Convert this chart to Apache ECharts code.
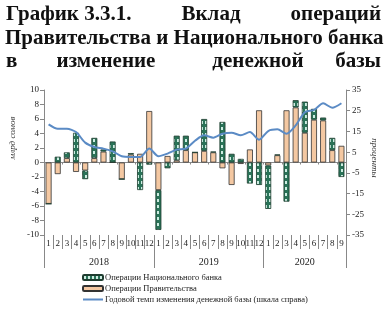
<!DOCTYPE html>
<html><head><meta charset="utf-8">
<script src="https://cdn.jsdelivr.net/npm/echarts@6/dist/echarts.min.js"></script>
<style>html,body{margin:0;padding:0;background:#fff}#c{width:392px;height:320px}</style>
</head><body><div id="c"></div>
<script>
var months = ['1','2','3','4','5','6','7','8','9','10','11','12','1','2','3','4','5','6','7','8','9','10','11','12','1','2','3','4','5','6','7','8','9'];
var years = ['2018','2019','2020'];
var govOps = [-5.7,-1.6,0.6,-1.3,-1.1,0.6,1.5,0,-2.3,1.1,1.2,7.1,
              -3.8,0.9,0.3,1.7,1.4,1.6,1.4,-0.8,-3.1,-0.2,1.8,7.2,
              -0.4,1.0,7.2,7.6,4.1,5.9,5.8,1.7,2.3];
var nbOps = [0,0.8,0.8,4.1,-1.2,2.8,0.3,2.9,0,0.2,-3.8,-0.3,
             -5.5,-0.8,3.4,2.0,0,4.4,0.1,5.6,1.2,0.5,-2.9,-3.1,
             -6.0,0.1,-5.4,1.0,4.3,1.5,0.4,1.7,-2.0];
var baseRate = [18.4,16.3,16.3,14.7,9.6,7.5,6.7,5.4,3.0,2.7,2.7,6.7,
                3.0,4.3,6.2,6.7,10.5,13.1,12.0,13.9,14.4,13.1,14.7,11.0,
                15.2,16.0,13.9,17.9,24.3,25.4,28.6,26.4,28.6];
var names = ['Операции Национального банка','Операции Правительства','Годовой темп изменения денежной базы (шкала справа)'];

var pc = document.createElement('canvas'); pc.width = 4; pc.height = 6;
var px = pc.getContext('2d');
px.fillStyle = '#2A7358'; px.fillRect(0,0,4,6);
px.fillStyle = '#CDEDE2'; px.fillRect(1,1,2,3);
var greenPat = {image: pc, repeat: 'repeat'};

var serif = '"Liberation Serif","DejaVu Serif",serif';
var tf = 21;
function t(txt, x, y, align){ return {type:'text', x:x, y:y, style:{text:txt, font:'bold '+tf+'px '+serif, fill:'#111', align:align, verticalAlign:'middle'}}; }

var chart = echarts.init(document.getElementById('c'), null, {renderer:'canvas'});
chart.setOption({
  animation:false,
  backgroundColor:'#fff',
  grid:{left:44, right:46, top:90, bottom:85},
  graphic:[
    t('График 3.3.1.', 6, 15, 'left'),
    t('Вклад', 211, 15, 'center'),
    t('операций', 381, 15, 'right'),
    t('Правительства и Национального банка', 5, 39, 'left'),
    t('в', 6, 62, 'left'),
    t('изменение', 106, 62, 'center'),
    t('денежной', 258, 62, 'center'),
    t('базы', 381, 62, 'right'),
    {type:'text', x:13, y:138, rotation:Math.PI/2, style:{text:'млрд сомов', font:'italic 9px '+serif, fill:'#333', align:'center', verticalAlign:'middle'}},
    {type:'text', x:374, y:158, rotation:-Math.PI/2, style:{text:'проценты', font:'italic 9px '+serif, fill:'#333', align:'center', verticalAlign:'middle'}}
  ],
  legend:{orient:'vertical', left:82, top:273, padding:0, itemWidth:20, itemHeight:5, itemGap:2,
    data:[names[0], names[1], {name:names[2], itemStyle:{opacity:0}}],
    textStyle:{fontFamily:serif, fontSize:8.5, color:'#222', padding:[0,0,0,-3]}},
  xAxis:[
    {type:'category', data:months, axisLine:{onZero:true, lineStyle:{color:'#888'}},
     axisTick:{show:true, length:2, lineStyle:{color:'#888'}}, axisLabel:{show:false}, splitLine:{show:false}},
    {type:'category', data:months, position:'bottom', axisLine:{show:false, onZero:false},
     axisTick:{show:true, length:14, lineStyle:{color:'#888'}},
     axisLabel:{margin:4, fontFamily:serif, fontSize:9, color:'#222', interval:0}},
    {type:'value', min:0, max:33, position:'bottom', axisLine:{show:false, onZero:false},
     splitLine:{show:false},
     axisTick:{show:true, length:33, customValues:[0,12,24,33], lineStyle:{color:'#888'}},
     axisLabel:{margin:22, customValues:[6,18,28.5], fontFamily:serif, fontSize:10, color:'#222',
       formatter:function(v){ return v<12?years[0]:(v<24?years[1]:years[2]); }}}
  ],
  yAxis:[
    {type:'value', min:-10, max:10, interval:2, axisLine:{show:true, lineStyle:{color:'#888'}},
     axisTick:{show:true, length:4, lineStyle:{color:'#888'}}, splitLine:{show:false},
     axisLabel:{margin:5, fontFamily:serif, fontSize:9, color:'#222'}},
    {type:'value', min:-35, max:35, interval:10, position:'right', axisLine:{show:true, lineStyle:{color:'#888'}},
     axisTick:{show:true, length:4, lineStyle:{color:'#888'}}, splitLine:{show:false},
     axisLabel:{margin:6, fontFamily:serif, fontSize:9, color:'#222'}}
  ],
  series:[
    {name:names[1], type:'bar', stack:'ops', barWidth:6, data:govOps,
     itemStyle:{color:'#F4C8A2', borderColor:'#333', borderWidth:0.8}},
    {name:names[0], type:'bar', stack:'ops', barWidth:6, data:nbOps,
     itemStyle:{color:greenPat, borderColor:'#1f3d30', borderWidth:0.8}},
    {name:names[2], type:'line', yAxisIndex:1, data:baseRate, smooth:0.25, symbol:'none',
     lineStyle:{color:'#5B8BC5', width:2}, itemStyle:{color:'#5B8BC5'}}
  ]
});
</script></body></html>
